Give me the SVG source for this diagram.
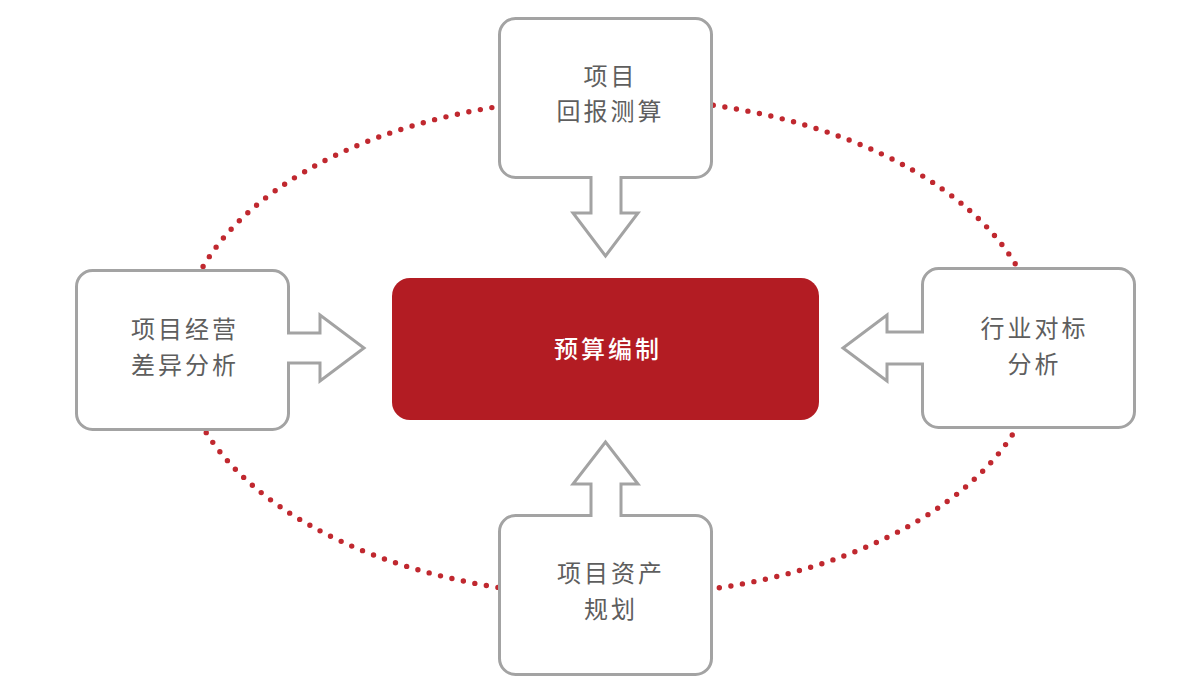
<svg xmlns="http://www.w3.org/2000/svg" width="1200" height="700" viewBox="0 0 1200 700">
  <style>
    .node { fill: #ffffff; stroke: #a3a3a3; stroke-width: 3; stroke-linejoin: miter; }
    .lbl { font-family: "Noto Sans CJK SC", "Noto Sans", sans-serif; font-size: 24px; fill: #5e5e5e; text-anchor: middle; letter-spacing: 3px; }
    .center-lbl { font-family: "Noto Sans CJK SC", "Noto Sans", sans-serif; font-size: 24px; fill: #ffffff; font-weight: 500; text-anchor: middle; letter-spacing: 3px; }
    .ring { fill: none; stroke: #c0282f; stroke-width: 5.4; stroke-linecap: round; stroke-dasharray: 0 11.7; }
  </style>
  <rect width="1200" height="700" fill="#ffffff"/>
  <g id="connectors">
    <ellipse class="ring" cx="610" cy="347" rx="430" ry="249"/>
  </g>
  <g id="node-center">
    <rect x="392" y="278" width="427" height="142" rx="18" ry="18" fill="#b31c23"/>
    <text class="center-lbl" x="608" y="357.5">预算编制</text>
  </g>
  <g id="node-top">
    <path class="node" d="M515.5,18.5 H695.5 A16,16 0 0 1 711.5,34.5 V161.5 A16,16 0 0 1 695.5,177.5 H621 V213 H638 L605.5,256 L573,213 H591 V177.5 H515.5 A16,16 0 0 1 499.5,161.5 V34.5 A16,16 0 0 1 515.5,18.5 Z"/>
    <text class="lbl" x="610.5" y="84.5">项目</text>
    <text class="lbl" x="610.5" y="119.5">回报测算</text>
  </g>
  <g id="node-left">
    <path class="node" d="M92.5,270.5 H272.5 A16,16 0 0 1 288.5,286.5 V333 H320 V315 L364,348 L320,381 V363 H288.5 V413.5 A16,16 0 0 1 272.5,429.5 H92.5 A16,16 0 0 1 76.5,413.5 V286.5 A16,16 0 0 1 92.5,270.5 Z"/>
    <text class="lbl" x="185" y="337.5">项目经营</text>
    <text class="lbl" x="185" y="373.5">差异分析</text>
  </g>
  <g id="node-right">
    <path class="node" d="M938.5,268.5 H1118.5 A16,16 0 0 1 1134.5,284.5 V411.5 A16,16 0 0 1 1118.5,427.5 H938.5 A16,16 0 0 1 922.5,411.5 V364 H887 V381 L843,348 L887,315 V332 H922.5 V284.5 A16,16 0 0 1 938.5,268.5 Z"/>
    <text class="lbl" x="1034.5" y="336.5">行业对标</text>
    <text class="lbl" x="1034.5" y="372.5">分析</text>
  </g>
  <g id="node-bottom">
    <path class="node" d="M515.5,515.5 H591 V484 H573 L605.5,442 L638,484 H621 V515.5 H695.5 A16,16 0 0 1 711.5,531.5 V658.5 A16,16 0 0 1 695.5,674.5 H515.5 A16,16 0 0 1 499.5,658.5 V531.5 A16,16 0 0 1 515.5,515.5 Z"/>
    <text class="lbl" x="611" y="581.5">项目资产</text>
    <text class="lbl" x="611" y="617.5">规划</text>
  </g>
</svg>
